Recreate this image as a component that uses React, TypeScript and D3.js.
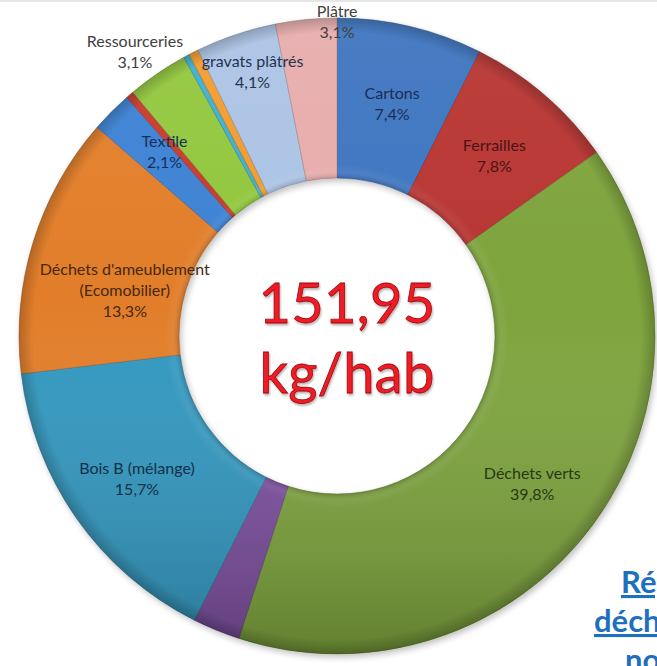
import React from "react";
import * as d3 from "d3";

const categories = [
  "Cartons", "Ferrailles", "Déchets verts", "Autre (violet)", "Bois B (mélange)",
  "Déchets d'ameublement (Ecomobilier)", "Textile", "Autre (rouge)", "Ressourceries",
  "Autre (bleu)", "Autre (orange)", "gravats plâtrés", "Plâtre",
];
const values = [7.4, 7.8, 39.8, 2.4, 15.7, 13.3, 2.1, 0.4, 3.1, 0.3, 0.5, 4.1, 3.1];
const colors = [
  "#3c74c0", "#b83432", "#7ea43c", "#7c4f9f", "#3098c0",
  "#e27e2c", "#3e82d4", "#c83b2f", "#92c73e", "#3bb0d2", "#f39c2e", "#abc3e5", "#e8acac",
];
const labelLines: string[][] = [
  ["Cartons", "7,4%"], ["Ferrailles", "7,8%"], ["Déchets verts", "39,8%"], [],
  ["Bois B (mélange)", "15,7%"], ["Déchets d'ameublement", "(Ecomobilier)", "13,3%"],
  ["Textile", "2,1%"], [], ["Ressourceries", "3,1%"], [], [], ["gravats plâtrés", "4,1%"],
  ["Plâtre", "3,1%"],
];
const labelColors = [
  "#1a2d52", "#4a1414", "#2a3814", "#222", "#12304a", "#45280e", "#14305a", "#222",
  "#404040", "#222", "#222", "#24344e", "#404040",
];
// label placement: distance from centre (px) and angle shift from slice middle (deg)
const labelRadius = [239, 239, 245, 0, 246, 217, 252, 0, 349, 0, 0, 277, 314];
const labelShift = [0, 0.5, 0.8, 0, -0.5, -5, 2, 0, -1, 0, 0, 0.8, 5.6];
const centerLines = ["151,95", "kg/hab"];
const noteLines = ["Répartition des", "déchets", "non"];

const W = 657, H = 666;
const cx = 337, cy = 336, R = 318, r0 = 158;

export default function App() {
  const pie = d3.pie<number>().value((d) => d).sort(null).startAngle(0).endAngle(2 * Math.PI);
  const arcs = pie(values);
  const arc = d3.arc<d3.PieArcDatum<number>>().innerRadius(r0).outerRadius(R);
  const ring = d3.arc()({ innerRadius: r0, outerRadius: R, startAngle: 0, endAngle: 2 * Math.PI }) as string;
  const font = "Lato, 'Open Sans', sans-serif";

  return (
    <svg width={W} height={H} style={{ position: "absolute", left: 0, top: 0, background: "#fff" }}
      viewBox={`0 0 ${W} ${H}`}>
      <defs>
        <linearGradient id="shade" x1="0" y1={-R} x2="0" y2={R} gradientUnits="userSpaceOnUse">
          <stop offset="0" stopColor="#fff" stopOpacity="0.06" />
          <stop offset="0.45" stopColor="#fff" stopOpacity="0" />
          <stop offset="1" stopColor="#000" stopOpacity="0.22" />
        </linearGradient>
        <radialGradient id="bevel" cx={0} cy={0} r={R} gradientUnits="userSpaceOnUse">
          <stop offset={r0 / R} stopColor="#000" stopOpacity="0.15" />
          <stop offset={(r0 + 7) / R} stopColor="#fff" stopOpacity="0.05" />
          <stop offset={(r0 + 14) / R} stopColor="#fff" stopOpacity="0" />
          <stop offset="0.955" stopColor="#000" stopOpacity="0" />
          <stop offset="1" stopColor="#000" stopOpacity="0.2" />
        </radialGradient>
        <filter id="glow" x="-20%" y="-20%" width="140%" height="140%">
          <feGaussianBlur in="SourceAlpha" stdDeviation="1.2" />
          <feOffset dx="1" dy="1.5" result="b" />
          <feComponentTransfer><feFuncA type="linear" slope="0.3" /></feComponentTransfer>
          <feMerge><feMergeNode /><feMergeNode in="SourceGraphic" /></feMerge>
        </filter>
        <filter id="ds" x="-10%" y="-10%" width="120%" height="120%">
          <feGaussianBlur in="SourceAlpha" stdDeviation="3" />
          <feOffset dx="2" dy="3" />
          <feComponentTransfer><feFuncA type="linear" slope="0.25" /></feComponentTransfer>
          <feMerge><feMergeNode /><feMergeNode in="SourceGraphic" /></feMerge>
        </filter>
      </defs>
      <line x1={0} y1={1} x2={W} y2={1} stroke="#e6e6e6" strokeWidth={2} />
      <g transform={`translate(${cx},${cy})`}>
        <g filter="url(#ds)">
          {arcs.map((a, i) => (
            <path key={categories[i]} d={arc(a) as string} fill={colors[i]}
              stroke={d3.color(colors[i])!.darker(1).formatHex()} strokeWidth={1} strokeOpacity={0.5} />
          ))}
        </g>
        <path d={ring} fill="url(#shade)" pointerEvents="none" />
        <path d={ring} fill="url(#bevel)" pointerEvents="none" />
      </g>
      {arcs.map((a, i) => {
        const lines = labelLines[i];
        if (!lines.length) return null;
        const ang = (a.startAngle + a.endAngle) / 2 + (labelShift[i] * Math.PI) / 180;
        const rr = labelRadius[i];
        const x = cx + rr * Math.sin(ang);
        const y = cy - rr * Math.cos(ang);
        const lh = 21;
        const y0 = y - ((lines.length - 1) * lh) / 2;
        return (
          <text key={"l" + i} x={x} textAnchor="middle" fontFamily={font} fontSize={16} fill={labelColors[i]}>
            {lines.map((t, k) => (
              <tspan key={k} x={x} y={y0 + k * lh} dy="0.35em">{t}</tspan>
            ))}
          </text>
        );
      })}
      <g filter="url(#glow)">
        {centerLines.map((t, k) => (
          <text key={t} x={cx + 10} y={323 + k * 70} textAnchor="middle" fontFamily={font}
            fontSize={56} fill="#ee1c25" stroke="#a0080d" strokeWidth={0.8} letterSpacing={0.3}>
            {t}
          </text>
        ))}
      </g>
      {noteLines.map((t, k) => (
        <text key={t} x={[621, 594, 625][k]} y={[593, 632, 671][k]} fontFamily={font} fontSize={31}
          fontWeight={700} fill="#1f6fbf" textDecoration={k < 2 ? "underline" : "none"}>
          {t}
        </text>
      ))}
    </svg>
  );
}
